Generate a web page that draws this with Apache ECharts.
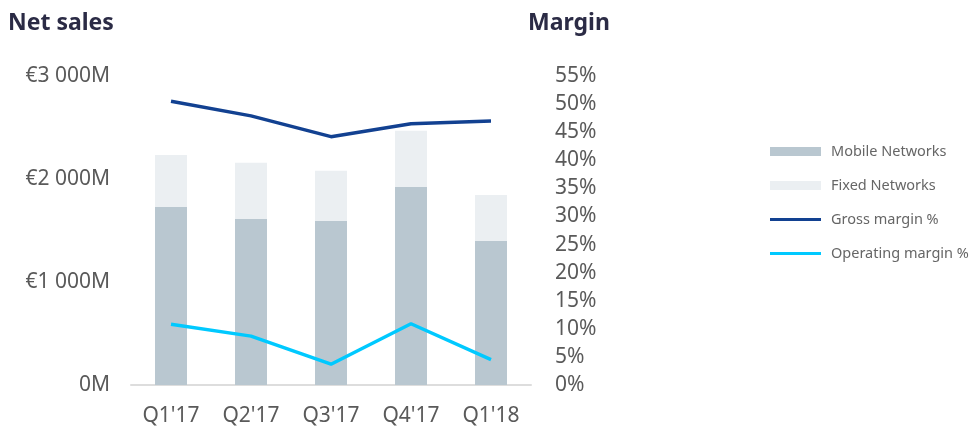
<!DOCTYPE html>
<html>
<head>
<meta charset="utf-8">
<script src="https://cdn.jsdelivr.net/npm/echarts@6/dist/echarts.min.js"></script>
<style>
  html, body { margin: 0; padding: 0; background: #fff; }
  #chart { width: 974px; height: 433px; }
</style>
</head>
<body>
<div id="chart"></div>
<script>
const quarters = ["Q1'17", "Q2'17", "Q3'17", "Q4'17", "Q1'18"]
// net sales, EUR million
const mobileNetworks = [1731, 1615, 1595, 1925, 1398]
const fixedNetworks = [502, 543, 486, 544, 447]
// margins, percent
const grossMargin = [50.5, 47.9, 44.2, 46.5, 47.0]
const operatingMargin = [10.8, 8.7, 3.7, 10.9, 4.5]

const fontFamily = '"Noto Sans", sans-serif'
const labelColor = '#5a5a5a'

const formatSales = (v) => {
  if (v === 0) return '0M'
  return '€' + String(v).replace(/\B(?=(\d{3})+(?!\d))/g, ' ') + 'M'
}

const chart = echarts.init(document.getElementById('chart'))

const option = {
  animation: false,
  textStyle: { fontFamily: fontFamily },
  title: [
    {
      text: 'Net sales',
      left: 3, top: 7,
      textStyle: { fontSize: 23, fontWeight: 'bold', color: '#2b2b45', fontFamily: fontFamily }
    },
    {
      text: 'Margin',
      left: 523, top: 7,
      textStyle: { fontSize: 23, fontWeight: 'bold', color: '#2b2b45', fontFamily: fontFamily }
    }
  ],
  legend: {
    orient: 'vertical',
    left: 765,
    top: 139,
    itemWidth: 51,
    itemHeight: 9,
    itemGap: 19,
    textStyle: { color: '#666', fontSize: 14.5, padding: [0, 0, 0, 5] },
    data: [
      { name: 'Mobile Networks', icon: 'rect' },
      { name: 'Fixed Networks', icon: 'rect' },
      { name: 'Gross margin %', icon: 'path://M0,0H51V3H0Z' },
      { name: 'Operating margin %', icon: 'path://M0,0H51V3H0Z' }
    ]
  },
  grid: {
    left: 131,
    top: 76,
    width: 400,
    bottom: 48
  },
  xAxis: {
    type: 'category',
    data: quarters,
    axisLine: { lineStyle: { color: '#ddd', width: 2 } },
    axisTick: { show: false },
    axisLabel: { color: labelColor, fontSize: 21, margin: 21 }
  },
  yAxis: [
    {
      type: 'value',
      min: 0,
      max: 3000,
      interval: 1000,
      splitLine: { show: false },
      axisLine: { show: false },
      axisLabel: { color: labelColor, fontSize: 21, margin: 21, formatter: formatSales }
    },
    {
      type: 'value',
      min: 0,
      max: 55,
      interval: 5,
      position: 'right',
      splitLine: { show: false },
      axisLine: { show: false },
      axisLabel: { color: labelColor, fontSize: 21, margin: 24, formatter: '{value}%' }
    }
  ],
  series: [
    {
      name: 'Mobile Networks',
      type: 'bar',
      stack: 'sales',
      barWidth: 32,
      itemStyle: { color: '#b9c7d0' },
      data: mobileNetworks
    },
    {
      name: 'Fixed Networks',
      type: 'bar',
      stack: 'sales',
      barWidth: 32,
      itemStyle: { color: '#ebeff2' },
      data: fixedNetworks
    },
    {
      name: 'Gross margin %',
      type: 'line',
      yAxisIndex: 1,
      symbol: 'none',
      lineStyle: { color: '#124191', width: 3.5 },
      itemStyle: { color: '#124191' },
      data: grossMargin
    },
    {
      name: 'Operating margin %',
      type: 'line',
      yAxisIndex: 1,
      symbol: 'none',
      lineStyle: { color: '#00c9ff', width: 3.5 },
      itemStyle: { color: '#00c9ff' },
      data: operatingMargin
    }
  ]
}

chart.setOption(option)
</script>
</body>
</html>
